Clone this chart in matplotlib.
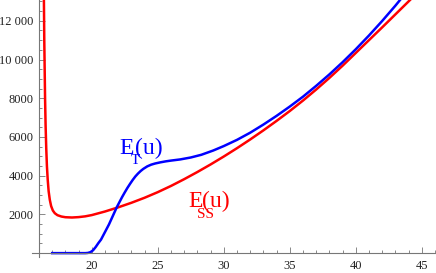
import numpy as np
import matplotlib.pyplot as plt
from matplotlib.ticker import MultipleLocator, FixedLocator

# values
u_ss = [16.36, 16.38, 16.40, 16.43, 16.46, 16.50, 16.55, 16.60, 16.66, 16.73, 16.82,
        16.92, 17.05, 17.2, 17.4, 17.7, 18.0, 18.5, 19.0, 19.5, 20.0, 21.0, 22.0, 23.0,
        24.0, 25.0, 26.0, 27.0, 28.0, 29.0, 30.0, 31.0, 32.0, 33.0, 34.0, 35.0, 36.0,
        37.0, 38.0, 39.0, 40.0, 41.0, 42.0, 43.0, 44.0, 45.0]
e_ss = [14000, 12500, 11000, 9500, 8000, 6600, 5400, 4500, 3800, 3200, 2750,
        2430, 2200, 2060, 1960, 1890, 1855, 1840, 1860, 1900, 1965, 2150, 2365, 2600,
        2860, 3150, 3470, 3820, 4190, 4580, 4990, 5420, 5870, 6340, 6830, 7340, 7880,
        8450, 9050, 9680, 10340, 11000, 11660, 12330, 13000, 13680]

u_t = [17.0, 18.0, 19.0, 19.5, 19.7, 19.9, 20.1, 20.3, 20.5, 20.7, 20.9, 21.1, 21.3,
       21.5, 21.7, 21.9, 22.1, 22.3, 22.5, 22.7, 22.9, 23.1, 23.3, 23.5, 23.7, 23.9,
       24.2, 24.5, 24.8, 25.2, 25.6, 26.0, 26.7, 27.5, 28.3, 29.2, 30.0, 31.0, 32.0,
       33.0, 34.0, 35.0, 36.0, 37.0, 38.0, 39.0, 40.0, 41.0, 42.0, 43.0, 44.0]
e_t = [0, 0, 0, 0, 10, 50, 150, 320, 520, 700, 960, 1220, 1480,
       1780, 2080, 2380, 2640, 2900, 3140, 3370, 3580, 3780, 3960, 4110, 4240, 4350,
       4480, 4570, 4630, 4690, 4740, 4780, 4840, 4940, 5080, 5300, 5530, 5850, 6220,
       6640, 7090, 7570, 8080, 8640, 9230, 9860, 10530, 11240, 11990, 12780, 13610]

xticks = [20, 25, 30, 35, 40, 45]
yticks = [2000, 4000, 6000, 8000, 10000, 12000]
ylabels = ['2000', '4000', '6000', '8000', '10 000', '12 000']

plt.rcParams['font.family'] = ['Liberation Serif', 'DejaVu Serif']

fig = plt.figure(figsize=(4.36, 2.73), dpi=100)
ax = fig.add_axes([32/436, 16/273, 404/436, 257/273])

ax.plot(u_ss, e_ss, color='#ff0000', lw=1.8, solid_joinstyle='round')
ax.plot(u_t, e_t, color='#0000ff', lw=1.8, solid_joinstyle='round')

ax.set_xlim(15.47, 46.08)
ax.set_ylim(-200, 13075)

for s in ['top', 'right']:
    ax.spines[s].set_visible(False)
ax.spines['left'].set_position(('data', 16))
ax.spines['bottom'].set_position(('data', 0))
for s in ['left', 'bottom']:
    ax.spines[s].set_color('#777777')
    ax.spines[s].set_linewidth(0.8)

ax.xaxis.set_major_locator(FixedLocator(xticks))
ax.xaxis.set_minor_locator(MultipleLocator(1))
ax.yaxis.set_major_locator(FixedLocator(yticks))
ax.yaxis.set_minor_locator(MultipleLocator(500))
ax.set_yticklabels(ylabels)
ax.tick_params(which='both', direction='in', color='#888888', width=0.7,
               labelsize=9, labelcolor='#222222')
ax.tick_params(which='major', length=4)
ax.tick_params(which='minor', length=2.5)
ax.tick_params(axis='x', pad=5)
ax.tick_params(axis='y', pad=4)

# curve labels
ax.text(22.1, 5110, 'E', color='#0000ff', fontsize=17)
ax.text(22.95, 4620, 'T', color='#0000ff', fontsize=11)
ax.text(23.3, 5110, '(u)', color='#0000ff', fontsize=17)

ax.text(27.3, 2370, 'E', color='#ff0000', fontsize=17)
ax.text(27.95, 1800, 'SS', color='#ff0000', fontsize=11)
ax.text(28.35, 2370, '(u)', color='#ff0000', fontsize=17)

fig.savefig('out.png', dpi=100)
